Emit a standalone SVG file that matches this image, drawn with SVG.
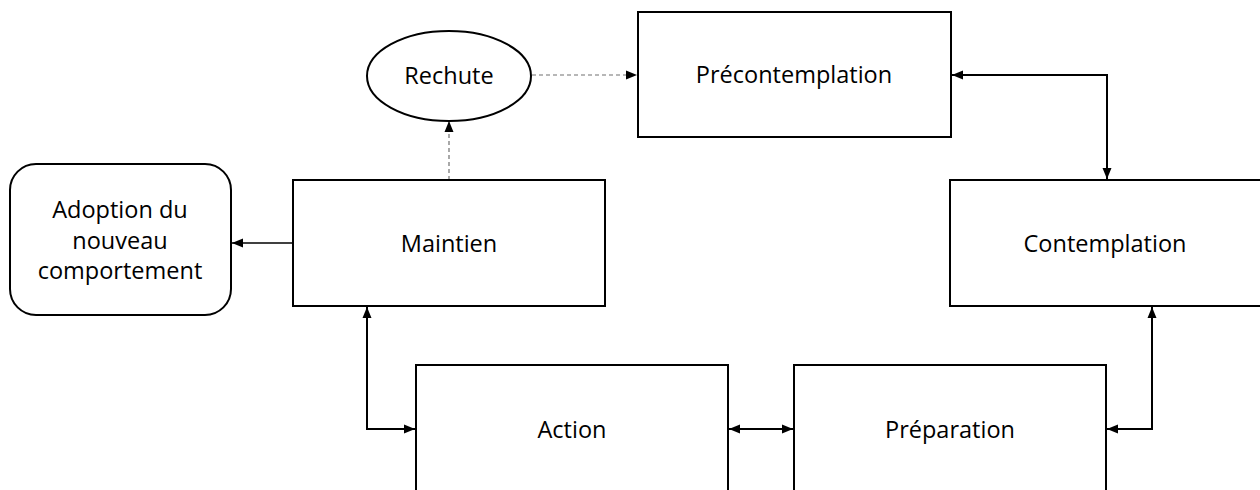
<svg xmlns="http://www.w3.org/2000/svg" width="1260" height="490" viewBox="0 0 1260 490">
<style>
.box{fill:#fff;stroke:#000;stroke-width:2}
.lbl{font-family:"Open Sans","Noto Sans",sans-serif;font-size:23.5px;fill:#000;text-anchor:middle}
.con{fill:none;stroke:#000;stroke-width:2}
.dash{fill:none;stroke:#707070;stroke-width:1.2;stroke-dasharray:4 3}
</style>
<defs>
<marker id="ah" markerUnits="userSpaceOnUse" markerWidth="12" markerHeight="10" refX="11" refY="5" orient="auto-start-reverse">
<path d="M0,0.5 L11,5 L0,9.5 z" fill="#000"/>
</marker>
</defs>
<rect width="1260" height="490" fill="#fff"/>
<g id="connectors">
<path class="dash" d="M532,75 H637" marker-end="url(#ah)"/>
<path class="dash" d="M449,180 V121" marker-end="url(#ah)"/>
<path class="con" d="M952,75 H1107 V179" marker-start="url(#ah)" marker-end="url(#ah)"/>
<path class="con" style="stroke-width:1.6" d="M293,243 H232" marker-end="url(#ah)"/>
<path class="con" d="M367,307 V429 H415" marker-start="url(#ah)" marker-end="url(#ah)"/>
<path class="con" d="M729,429 H793" marker-start="url(#ah)" marker-end="url(#ah)"/>
<path class="con" d="M1107,429 H1152 V307" marker-start="url(#ah)" marker-end="url(#ah)"/>
</g>
<g id="rechute">
<ellipse class="box" cx="449" cy="76" rx="82" ry="45"/>
<text class="lbl" x="449" y="84">Rechute</text>
</g>
<g id="precontemplation">
<rect class="box" x="638" y="12" width="313" height="125"/>
<text class="lbl" x="794" y="83">Précontemplation</text>
</g>
<g id="adoption">
<rect class="box" x="10" y="164" width="221" height="151" rx="26" ry="26"/>
<text class="lbl" x="120" y="218">Adoption du</text>
<text class="lbl" x="120" y="249">nouveau</text>
<text class="lbl" x="120" y="279">comportement</text>
</g>
<g id="maintien">
<rect class="box" x="293" y="180" width="312" height="126"/>
<text class="lbl" x="449" y="252">Maintien</text>
</g>
<g id="contemplation">
<rect class="box" x="950" y="180" width="314" height="126"/>
<text class="lbl" x="1105" y="252">Contemplation</text>
</g>
<g id="action">
<rect class="box" x="416" y="365" width="312" height="140"/>
<text class="lbl" x="572" y="438">Action</text>
</g>
<g id="preparation">
<rect class="box" x="794" y="365" width="312" height="140"/>
<text class="lbl" x="950" y="438">Préparation</text>
</g>
</svg>
